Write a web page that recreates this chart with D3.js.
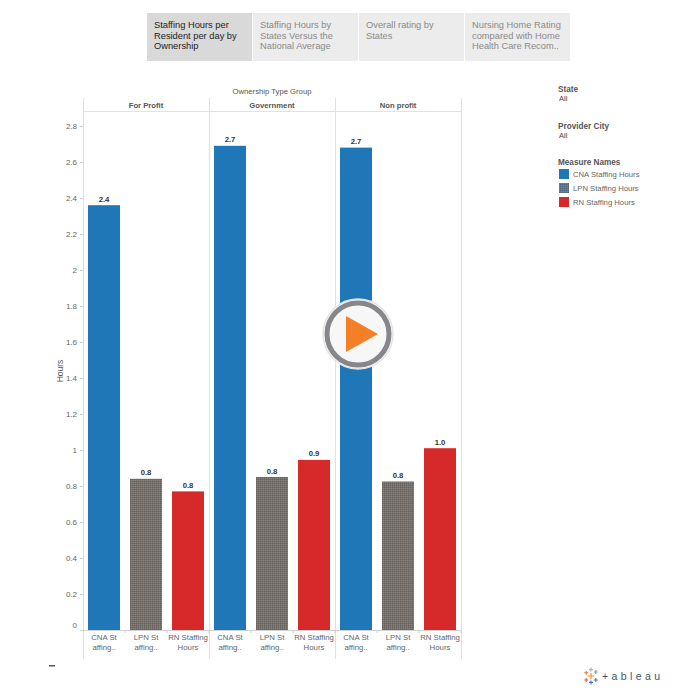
<!DOCTYPE html>
<html>
<head>
<meta charset="utf-8">
<script src="https://cdnjs.cloudflare.com/ajax/libs/d3/7.8.5/d3.min.js"></script>
<style>
  html, body { margin: 0; padding: 0; background: #fff; }
  svg { display: block; font-family: "Liberation Sans", Arial, sans-serif; }
</style>
</head>
<body>
<svg id="chart" width="698" height="698"></svg>
<script>
var ownership = ["For Profit", "Government", "Non profit"];
var measures = ["CNA Staffing Hours", "LPN Staffing Hours", "RN Staffing Hours"];
var forProfit = [2.36, 0.84, 0.77];
var government = [2.69, 0.85, 0.945];
var nonProfit = [2.68, 0.825, 1.01];
var barLabels = [["2.4", "0.8", "0.8"], ["2.7", "0.8", "0.9"], ["2.7", "0.8", "1.0"]];
var yTicks = [0, 0.2, 0.4, 0.6, 0.8, 1, 1.2, 1.4, 1.6, 1.8, 2, 2.2, 2.4, 2.6, 2.8];
var tabs = [
  ["Staffing Hours per", "Resident per day by", "Ownership"],
  ["Staffing Hours by", "States Versus the", "National Average"],
  ["Overall rating by", "States"],
  ["Nursing Home Rating", "compared with Home", "Health Care Recom.."]
];
var tickLabels = [["CNA St", "affing.."], ["LPN St", "affing.."], ["RN Staffing", "Hours"]];
var colors = ["#1f77b8", "url(#dither)", "#d62a2a"];

var svg = d3.select("#chart");

// dithered fill for the LPN bars
var pat = svg.append("defs").append("pattern")
    .attr("id", "dither")
    .attr("width", 2)
    .attr("height", 2)
    .attr("patternUnits", "userSpaceOnUse");
pat.append("rect").attr("width", 2).attr("height", 2).attr("fill", "#75706c");
pat.append("rect").attr("width", 1).attr("height", 1).attr("fill", "#a07a5c");
pat.append("rect").attr("x", 1).attr("y", 1).attr("width", 1).attr("height", 1).attr("fill", "#4f6880");

// tabs
var tabX = [147, 253, 359, 465];
var tabW = [105, 105, 105, 105];
var tab = svg.selectAll("g.tab")
    .data(tabs)
    .enter().append("g")
      .attr("class", "tab")
      .attr("transform", function (d, i) { return "translate(" + tabX[i] + ",13)"; });
tab.append("rect")
    .attr("width", function (d, i) { return tabW[i]; })
    .attr("height", 48)
    .attr("fill", function (d, i) { return i == 0 ? "#d9d9d9" : "#ececec"; });
tab.each(function (lines, i) {
  d3.select(this).selectAll("text")
    .data(lines)
    .enter().append("text")
      .attr("x", 7)
      .attr("y", function (d, j) { return 15 + j * 10.7; })
      .attr("font-size", 9.3)
      .attr("fill", i == 0 ? "#222" : "#8a8a8a")
      .text(function (d) { return d; });
});

// scales
var x0 = d3.scaleBand().domain(ownership).range([83, 461]);
var x1 = d3.scaleBand().domain(measures).range([0, x0.bandwidth()]).paddingInner(0.238).paddingOuter(0.119);
var y = d3.scaleLinear().domain([0, 2.8]).range([630, 126]);

// header and panel rules
svg.append("text")
    .attr("x", 272).attr("y", 94)
    .attr("text-anchor", "middle")
    .attr("font-size", 7.7)
    .attr("fill", "#555")
    .text("Ownership Type Group");

svg.append("line")
    .attr("x1", 83).attr("x2", 461).attr("y1", 111.5).attr("y2", 111.5)
    .attr("stroke", "#e2e2e2");

var rules = [83].concat(ownership.map(function (d) { return x0(d) + x0.bandwidth(); }));
svg.selectAll("line.rule")
    .data(rules)
    .enter().append("line")
      .attr("class", "rule")
      .attr("x1", function (d) { return d + 0.5; })
      .attr("x2", function (d) { return d + 0.5; })
      .attr("y1", 98)
      .attr("y2", 659)
      .attr("stroke", "#e0e0e0");

svg.selectAll("text.head")
    .data(ownership)
    .enter().append("text")
      .attr("class", "head")
      .attr("x", function (d) { return x0(d) + x0.bandwidth() / 2; })
      .attr("y", 108)
      .attr("text-anchor", "middle")
      .attr("font-size", 7.7)
      .attr("font-weight", "bold")
      .attr("fill", "#555")
      .text(function (d) { return d; });

// y axis
var yAxis = svg.append("g")
    .attr("transform", "translate(83,0)")
    .call(d3.axisLeft(y).tickValues(yTicks).tickSize(3).tickFormat(function (d) { return d; }));
yAxis.select(".domain").remove();
yAxis.selectAll("line").attr("stroke", "#ccc");
yAxis.selectAll("text")
    .attr("font-family", "Liberation Sans")
    .attr("font-size", 8)
    .attr("fill", "#666")
    .attr("x", -6)
    .attr("dy", function (d) { return d == 0 ? "-0.3em" : "0.32em"; });

svg.append("text")
    .attr("transform", "translate(63,371) rotate(-90)")
    .attr("text-anchor", "middle")
    .attr("font-size", 8.5)
    .attr("fill", "#555")
    .text("Hours");

// bars
var series = [forProfit, government, nonProfit];
var panel = svg.selectAll("g.panel")
    .data(series)
    .enter().append("g")
      .attr("class", "panel")
      .attr("transform", function (d, i) { return "translate(" + x0(ownership[i]) + ",0)"; });

panel.selectAll("rect")
    .data(function (d) { return d; })
    .enter().append("rect")
      .attr("x", function (d, i) { return x1(measures[i]); })
      .attr("y", function (d) { return y(d); })
      .attr("width", x1.bandwidth())
      .attr("height", function (d) { return y(0) - y(d); })
      .attr("fill", function (d, i) { return colors[i]; });

panel.each(function (vals, p) {
  var g = d3.select(this);
  g.selectAll("text.val")
    .data(vals)
    .enter().append("text")
      .attr("class", "val")
      .attr("x", function (d, i) { return x1(measures[i]) + x1.bandwidth() / 2; })
      .attr("y", function (d) { return y(d) - 3.5; })
      .attr("text-anchor", "middle")
      .attr("font-size", 7.7)
      .attr("font-weight", "bold")
      .attr("fill", "#333333")
      .text(function (d, i) { return barLabels[p][i]; });

  // x tick labels
  var tl = g.selectAll("g.tl")
    .data(measures)
    .enter().append("g")
      .attr("class", "tl")
      .attr("transform", function (d) { return "translate(" + (x1(d) + x1.bandwidth() / 2) + ",0)"; });
  tl.append("line")
    .attr("x1", 21).attr("x2", 21).attr("y1", 630).attr("y2", 633)
    .attr("stroke", "#ccc");
  tl.each(function (d, i) {
    d3.select(this).selectAll("text")
      .data(tickLabels[i])
      .enter().append("text")
        .attr("y", function (t, j) { return 640 + j * 9.5; })
        .attr("text-anchor", "middle")
        .attr("font-size", 7.8)
        .attr("fill", "#666")
        .text(function (t) { return t; });
  });
});

svg.append("line")
    .attr("x1", 80).attr("x2", 461).attr("y1", 630.5).attr("y2", 630.5)
    .attr("stroke", "#d0d0d0");

// filters and legend
var side = svg.append("g").attr("font-size", 8.2);
side.append("text").attr("x", 558).attr("y", 92).attr("font-weight", "bold").attr("fill", "#555").text("State");
side.append("text").attr("x", 559).attr("y", 101).attr("font-size", 7.5).attr("fill", "#444").text("All");
side.append("text").attr("x", 558).attr("y", 129).attr("font-weight", "bold").attr("fill", "#555").text("Provider City");
side.append("text").attr("x", 559).attr("y", 138).attr("font-size", 7.5).attr("fill", "#444").text("All");
side.append("text").attr("x", 558).attr("y", 165).attr("font-weight", "bold").attr("fill", "#555").text("Measure Names");

var legend = side.selectAll("g.leg")
    .data(measures)
    .enter().append("g")
      .attr("class", "leg")
      .attr("transform", function (d, i) { return "translate(559," + (169 + i * 14) + ")"; });
legend.append("rect")
    .attr("width", 10).attr("height", 10)
    .attr("fill", function (d, i) { return colors[i]; });
legend.append("text")
    .attr("x", 14).attr("y", 8)
    .attr("font-size", 7.7)
    .attr("fill", "#666")
    .text(function (d) { return d; });

// play button overlay
var play = svg.append("g").attr("transform", "translate(358,334)");
play.append("circle").attr("r", 35).attr("fill", "#f7f7f7").attr("stroke", "#e4e4e4").attr("stroke-width", 1.5);
play.append("circle").attr("r", 31).attr("fill", "none").attr("stroke", "#87878b").attr("stroke-width", 5);
play.append("path").attr("d", d3.line()([[-12, -18], [20, 0], [-12, 18]]) + "Z").attr("fill", "#f47f26");

// footer
svg.append("rect").attr("x", 49).attr("y", 665).attr("width", 6).attr("height", 1.5).attr("fill", "#555");

var logo = svg.append("g").attr("transform", "translate(591,676) scale(0.8)");
var cross = [[0, 0, 4, "#f28e2b"], [-6, -4, 2.5, "#e8743b"], [6, -5, 2.5, "#7f9fc0"], [-6, 5, 2.5, "#e15759"], [6, 5, 2.5, "#4e79a7"], [0, -8, 2.5, "#9fb6cc"], [0, 8, 2.5, "#4e79a7"]];
cross.forEach(function (c) {
  logo.append("path")
      .attr("d", "M" + (c[0] - c[2]) + "," + c[1] + "H" + (c[0] + c[2]) + "M" + c[0] + "," + (c[1] - c[2]) + "V" + (c[1] + c[2]))
      .attr("stroke", c[3])
      .attr("stroke-width", 1.4);
});
svg.append("text")
    .attr("x", 602).attr("y", 680)
    .attr("font-size", 10.5)
    .attr("letter-spacing", 3.4)
    .attr("fill", "#3d5670")
    .text("+ableau");
</script>
</body>
</html>
